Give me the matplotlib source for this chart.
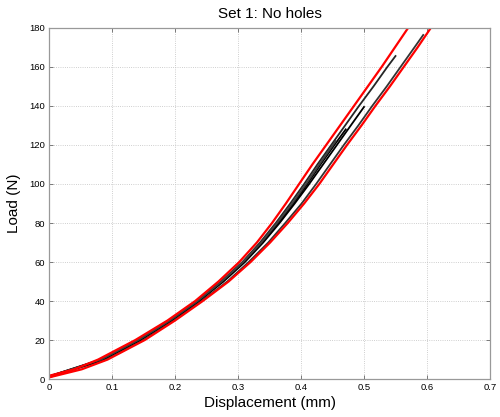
import matplotlib
matplotlib.use("agg")

from matplotlib import pyplot as plt
import numpy as np

plt.rcParams['font.family'] = ['Liberation Sans', 'DejaVu Sans']

# load levels (N) and displacement (mm) of each curve at those levels
loads = [1, 5, 10, 20, 30, 40, 50, 60, 70, 80, 90, 100, 110, 120,
         130, 140, 150, 160, 170, 180, 185]
red_upper = [-0.008, 0.040, 0.078, 0.137, 0.188, 0.232, 0.269, 0.302, 0.330, 0.354, 0.376,
             0.397, 0.418, 0.440, 0.462, 0.484, 0.506, 0.528, 0.549, 0.570, 0.580]
red_lower = [0.002, 0.052, 0.093, 0.152, 0.200, 0.244, 0.285, 0.320, 0.351, 0.379, 0.405,
             0.429, 0.451, 0.473, 0.496, 0.518, 0.541, 0.563, 0.585, 0.606, 0.617]

# individual test curves (black), each ends at its own load
b1_load = [1, 10, 20, 30, 40, 50, 60, 70, 80, 90, 100, 110, 120, 130, 140, 150, 160, 165.6]
b1_x = [-0.004, 0.082, 0.141, 0.191, 0.235, 0.273, 0.307, 0.335, 0.360, 0.383, 0.405,
        0.426, 0.448, 0.470, 0.492, 0.515, 0.537, 0.550]
b2_load = [1, 10, 20, 30, 40, 50, 60, 70, 80, 90, 100, 110, 120, 130, 140, 150, 160, 170, 176.4]
b2_x = [0.001, 0.091, 0.150, 0.198, 0.242, 0.283, 0.317, 0.348, 0.375, 0.401, 0.424,
        0.446, 0.468, 0.491, 0.513, 0.536, 0.558, 0.580, 0.594]
b3_load = [1, 10, 20, 30, 40, 50, 60, 70, 80, 90, 100, 110, 120, 130, 139.5]
b3_x = [-0.002, 0.086, 0.145, 0.194, 0.238, 0.277, 0.311, 0.340, 0.366, 0.390, 0.413,
        0.435, 0.457, 0.479, 0.500]
b4_load = [1, 10, 20, 30, 40, 50, 60, 70, 80, 90, 100, 110, 120, 128]
b4_x = [-0.003, 0.084, 0.143, 0.193, 0.237, 0.275, 0.309, 0.338, 0.364, 0.388, 0.410,
        0.431, 0.453, 0.471]
b5_load = [1, 10, 20, 30, 40, 50, 60, 70, 80, 90, 100, 110, 122]
b5_x = [-0.003, 0.083, 0.142, 0.192, 0.236, 0.274, 0.308, 0.337, 0.362, 0.386, 0.408,
        0.429, 0.455]

xticks = [0, 0.1, 0.2, 0.3, 0.4, 0.5, 0.6, 0.7]
xticklabels = ['0', '0.1', '0.2', '0.3', '0.4', '0.5', '0.6', '0.7']
yticks = [0, 20, 40, 60, 80, 100, 120, 140, 160, 180]

fig = plt.figure(figsize=(5, 4.17), dpi=100)
ax = fig.add_axes([0.098, 0.091, 0.882, 0.842])

for xs, ls, c in [(b1_x, b1_load, '0.15'), (b2_x, b2_load, '0.2'), (b3_x, b3_load, 'k'),
                  (b4_x, b4_load, 'k'), (b5_x, b5_load, '0.25')]:
    ax.plot(xs, ls, color=c, lw=1.3)

ax.plot(red_upper, loads, color='#ff0000', lw=1.6)
ax.plot(red_lower, loads, color='#ff0000', lw=1.6)

ax.set_xlim(0, 0.7)
ax.set_ylim(0, 180)
ax.set_xticks(xticks)
ax.set_xticklabels(xticklabels)
ax.set_yticks(yticks)
ax.tick_params(direction='in', length=3, width=0.6, color='0.4', labelsize=6.8,
               top=True, right=True, pad=3)
ax.grid(True, linestyle=':', color='0.75', lw=0.6)
for s in ax.spines.values():
    s.set_color('0.6')
    s.set_linewidth(0.9)

ax.set_title('Set 1: No holes', fontsize=11, pad=7)
ax.set_xlabel('Displacement (mm)', fontsize=11, labelpad=3)
ax.set_ylabel('Load (N)', fontsize=11, labelpad=6)

plt.savefig('out.png', dpi=100)
plt.close()
